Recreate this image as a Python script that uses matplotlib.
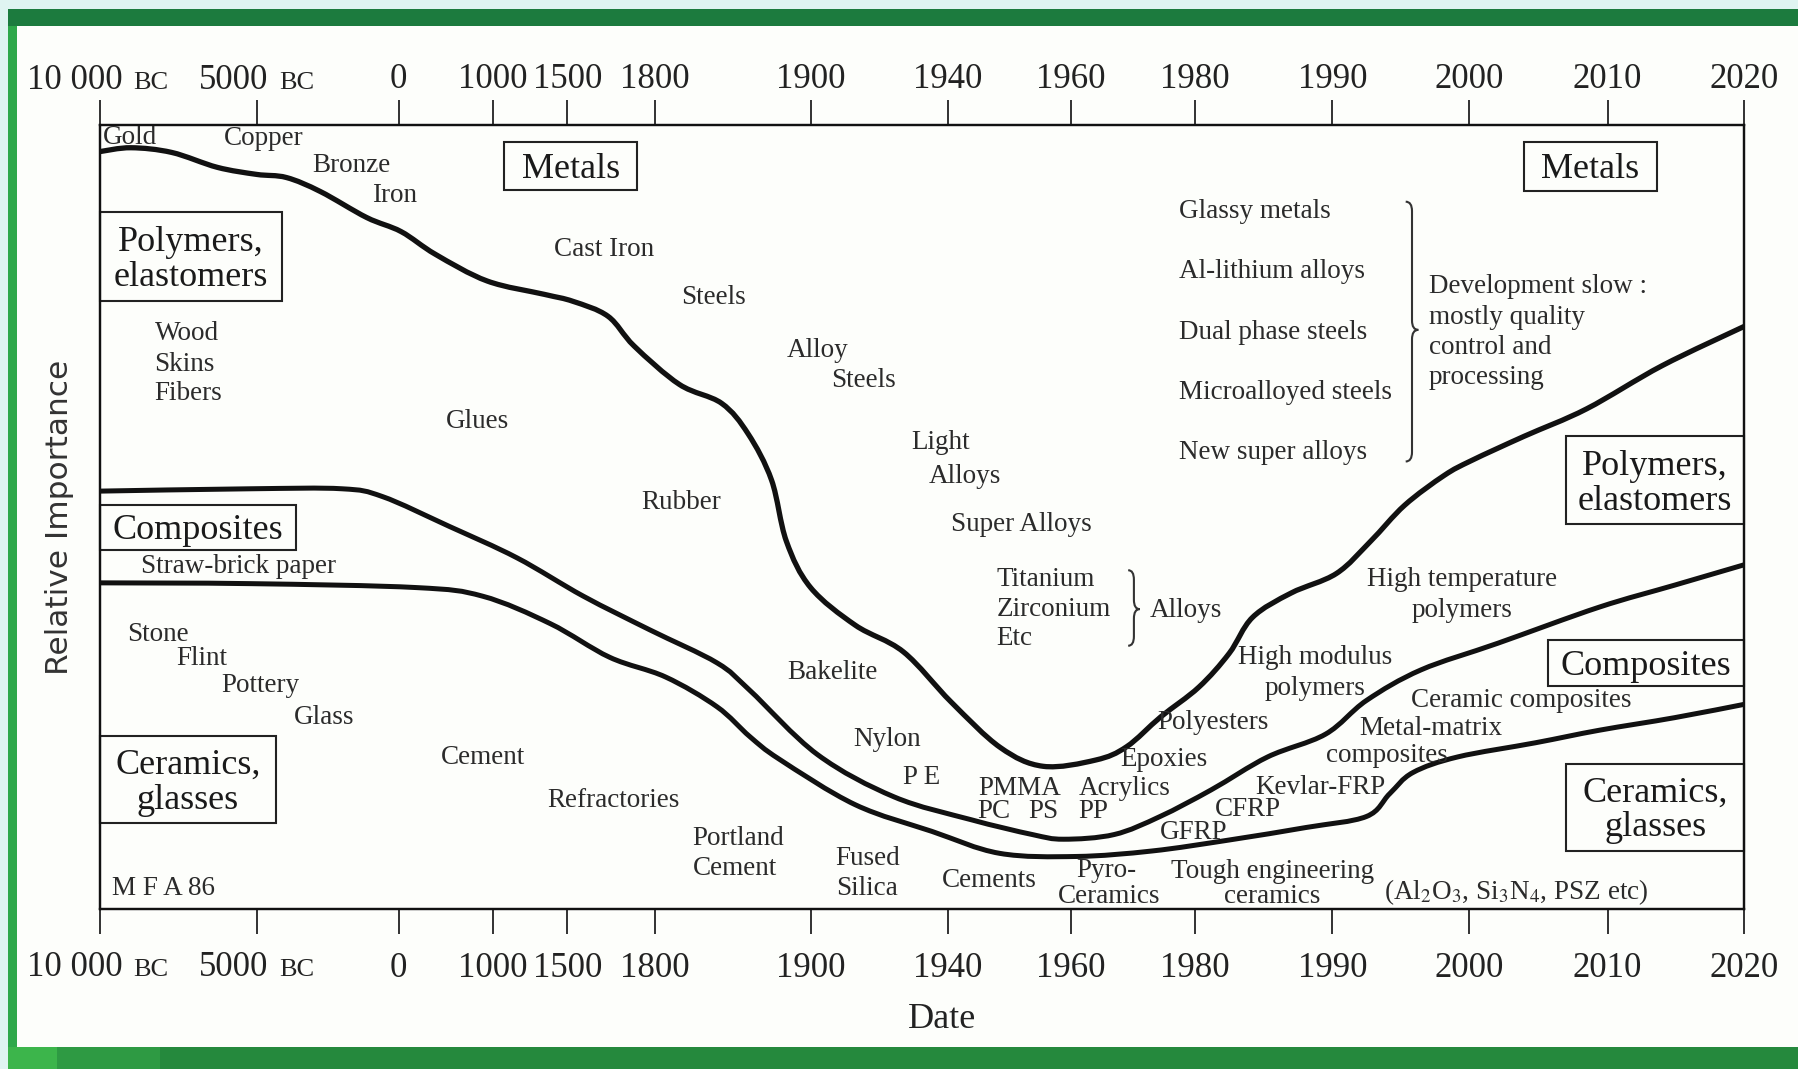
import numpy as np
import matplotlib.pyplot as plt
from matplotlib.patches import Rectangle, PathPatch
from matplotlib.path import Path

plt.rcParams['font.family'] = ['Liberation Serif', 'DejaVu Serif']
plt.rcParams['mathtext.fontset'] = 'stix'

# date axis: uneven spacing as in the original (fraction of axis width)
tick_years = [-10000, -5000, 0, 1000, 1500, 1800, 1900, 1940, 1960, 1980, 1990, 2000, 2010, 2020]
tick_names = ['10 000', '5000', '0', '1000', '1500', '1800', '1900', '1940', '1960',
              '1980', '1990', '2000', '2010', '2020']
tick_frac = [0, 0.0955, 0.182, 0.2392, 0.2845, 0.3375, 0.4324, 0.516, 0.5907,
             0.666, 0.7497, 0.8326, 0.917, 1.0]
bc_years = [-10000, -5000]

# boundary metals / polymers (year, relative importance 0-100)
metals_year = [-10000, -9000, -7700, -6250, -5000, -3950, -2750, -1130, 25, 390, 940,
               1345, 1520, 1640, 1730, 1816, 1843, 1860, 1875, 1884.5, 1900, 1913, 1927,
               1940.5, 1948.5, 1955.5, 1964, 1969, 1974.5, 1980.3, 1982.5, 1984.2, 1987,
               1990.3, 1992.8, 1995.3, 1998.2, 2000.2, 2004, 2008.5, 2014, 2020]
metals_edge = [96.6, 97.1, 96.5, 94.6, 93.7, 93.3, 91.5, 88.2, 86.4, 83.5, 80.1,
               78.4, 77.5, 75.6, 71.8, 66.9, 64.5, 60.6, 54.7, 46.9, 41.0, 36.2, 32.8,
               26.4, 20.6, 18.2, 19.0, 20.7, 24.5, 28.3, 32.6, 37.2, 40.3,
               42.8, 46.9, 51.5, 55.3, 57.2, 60.3, 63.8, 69.3, 74.3]

# boundary polymers / composites
polymer_year = [-10000, -5200, -2000, -570, 537, 1161, 1555, 1784, 1840, 1861, 1902,
                1924.3, 1943.7, 1953.7, 1958.8, 1967, 1974.4, 1981.2, 1985.3, 1989.5,
                1992.5, 1996.5, 2002.1, 2009.4, 2014.9, 2020]
polymer_edge = [53.3, 53.6, 53.6, 52.6, 48.8, 44.8, 39.9, 35.6, 31.4, 27.9, 19.7,
                14.3, 11.4, 9.5, 8.9, 9.5, 11.8, 15.2, 19.4, 22.3,
                26.6, 30.5, 33.9, 38.5, 41.3, 43.9]

# boundary composites / ceramics
composite_year = [-10000, -5200, 183, 891, 1385, 1646, 1807, 1840, 1861, 1880, 1913,
                  1935.3, 1948.4, 1960.9, 1973.1, 1982.5, 1988.1, 1992.5, 1994.2, 1995.9,
                  1999.2, 2004.8, 2009.4, 2014.9, 2020]
composite_edge = [41.6, 41.5, 41.0, 39.9, 36.4, 32.1, 29.6, 25.8, 22.0, 19.1, 13.3,
                  9.9, 7.1, 6.7, 7.4, 8.8, 10.4, 11.8, 14.7, 17.4,
                  19.4, 21.2, 22.8, 24.4, 26.1]


def fwd(x):
    return np.interp(x, tick_years, tick_frac)


def inv(u):
    return np.interp(u, tick_frac, tick_years)


W, H = 1798, 1069
fig = plt.figure(figsize=(W / 100, H / 100), dpi=100, facecolor='#dff4f1')


def fig_rect(x0, y0, x1, y1, color):
    # pixel box of the page frame -> figure fraction
    fig.add_artist(Rectangle((x0 / W, 1 - y1 / H), (x1 - x0) / W, (y1 - y0) / H,
                             transform=fig.transFigure, color=color, zorder=-5, lw=0))


fig_rect(17, 26, W, 1047, '#fdfefb')
fig_rect(8, 9, W, 26, '#1c7b3e')
fig_rect(8, 26, 17, 1047, '#2ea84a')
fig_rect(8, 1047, 57, H, '#3cb54b')
fig_rect(57, 1047, 160, H, '#2e9a43')
fig_rect(160, 1047, W, H, '#25893d')

ax = fig.add_axes([99.5 / W, 1 - 909 / H, (1744 - 99.5) / W, (909 - 125) / H])
ax.set_facecolor('none')
ax.set_xscale('function', functions=(fwd, inv))
ax.set_xlim(-10000, 2020)
ax.set_ylim(0, 100)


def smooth_curve(yrs, vals, lw):
    # hand-drawn look: Catmull-Rom bezier through the points, in screen space
    pts = ax.transData.transform(np.column_stack([yrs, vals]))
    p = np.vstack([pts[0], pts, pts[-1]])
    verts = [pts[0]]
    codes = [Path.MOVETO]
    for i in range(1, len(p) - 2):
        p0, p1, p2, p3 = p[i - 1], p[i], p[i + 1], p[i + 2]
        verts += [p1 + (p2 - p0) / 6, p2 - (p3 - p1) / 6, p2]
        codes += [Path.CURVE4] * 3
    verts = ax.transAxes.inverted().transform(np.array(verts))
    ax.add_patch(PathPatch(Path(verts, codes), transform=ax.transAxes, fill=False,
                           lw=lw, ec='#111111', capstyle='butt', joinstyle='round'))


smooth_curve(metals_year, metals_edge, 3.8)
smooth_curve(polymer_year, polymer_edge, 3.6)
smooth_curve(composite_year, composite_edge, 3.6)

ink = '#222222'
labels = ['' if y in bc_years else n for y, n in zip(tick_years, tick_names)]
ax.set_xticks(tick_years)
ax.set_xticklabels(labels)
ax.tick_params(axis='x', direction='out', length=18, width=1.3, pad=13,
               labelsize=25, colors=ink)
ax.set_yticks([])
for sp in ax.spines.values():
    sp.set_linewidth(1.6)
    sp.set_color('#111111')

top = ax.twiny()
top.set_xscale('function', functions=(fwd, inv))
top.set_xlim(-10000, 2020)
top.set_xticks(tick_years)
top.set_xticklabels(labels)
top.tick_params(axis='x', direction='out', length=18, width=1.3, pad=3,
                labelsize=25, colors=ink)
for sp in top.spines.values():
    sp.set_linewidth(1.6)
    sp.set_color('#111111')

# "BC" in small capitals next to the number
bc_offsets = {-10000: (17, 24), -5000: (8.3, 16.5)}
for yr, name in zip(tick_years, tick_names):
    if yr not in bc_years:
        continue
    dn, db = bc_offsets[yr]
    for yf, base in [(1, 26.2), (0, -48)]:
        ax.annotate(name, xy=(yr, yf), xycoords=('data', 'axes fraction'),
                    xytext=(dn, base), textcoords='offset points', ha='right',
                    va='baseline', fontsize=25, color=ink, annotation_clip=False)
        ax.annotate('BC', xy=(yr, yf), xycoords=('data', 'axes fraction'),
                    xytext=(db, base), textcoords='offset points', ha='left',
                    va='baseline', fontsize=19, color=ink, annotation_clip=False)

ax.set_xlabel('Date', fontsize=26, color=ink)
ax.xaxis.set_label_coords(0.5126, -0.1415)
ax.xaxis.label.set_va('center')
ax.set_ylabel('Relative Importance', fontsize=22.5, color='#333333', family='DejaVu Sans')
ax.yaxis.set_label_coords(-0.0244, 0.50)
ax.yaxis.label.set_va('center')


def pos(px, py):
    # position measured on the reference picture -> axes fraction
    return (px - 87) / 1434, (793 - py) / 685


boxes = [
    ('Metals', 440, 123, 556, 165),
    ('Metals', 1329, 123, 1445, 166),
    ('Polymers,\nelastomers', 87, 184, 246, 262),
    ('Composites', 87, 440, 258, 479),
    ('Ceramics,\nglasses', 87, 642, 241, 718),
    ('Polymers,\nelastomers', 1366, 380, 1521, 457),
    ('Composites', 1350, 558, 1521, 598),
    ('Ceramics,\nglasses', 1366, 666, 1521, 742),
]
for txt, x0, y0, x1, y1 in boxes:
    ax0, ay1 = pos(x0, y0)
    ax1, ay0 = pos(x1, y1)
    ax.add_patch(Rectangle((ax0, ay0), ax1 - ax0, ay1 - ay0, transform=ax.transAxes,
                           fill=False, lw=1.5, ec='#222222', clip_on=False))
    ax.text((ax0 + ax1) / 2, (ay0 + ay1) / 2 - 0.004, txt, transform=ax.transAxes,
            ha='center', va='center', fontsize=26, color='#1a1a1a', linespacing=1.08)

notes = [
    ('Gold', 90, 119, 'left'), ('Copper', 230, 120, 'center'),
    ('Bronze', 307, 143, 'center'), ('Iron', 344, 170, 'center'),
    ('Cast Iron', 527, 217, 'center'), ('Steels', 622, 259, 'center'),
    ('Alloy', 713, 305, 'center'), ('Steels', 753, 331, 'center'),
    ('Light', 820, 385, 'center'), ('Alloys', 842, 415, 'center'),
    ('Super Alloys', 891, 457, 'center'),
    ('Titanium', 869, 505, 'left'), ('Zirconium', 869, 531, 'left'),
    ('Etc', 869, 557, 'left'), ('Alloys', 1003, 532, 'left'),
    ('Glassy metals', 1028, 184, 'left'), ('Al-lithium alloys', 1028, 236, 'left'),
    ('Dual phase steels', 1028, 289, 'left'),
    ('Microalloyed steels', 1028, 342, 'left'),
    ('New super alloys', 1028, 394, 'left'),
    ('Development slow :', 1246, 249, 'left'), ('mostly quality', 1246, 276, 'left'),
    ('control and', 1246, 302, 'left'), ('processing', 1246, 329, 'left'),
    ('Wood', 135, 290, 'left'), ('Skins', 135, 317, 'left'), ('Fibers', 135, 343, 'left'),
    ('Glues', 417, 367, 'center'), ('Rubber', 594, 438, 'center'),
    ('Bakelite', 726, 586, 'center'), ('Nylon', 774, 645, 'center'),
    ('P E', 804, 678, 'center'), ('PMMA', 889, 688, 'center'),
    ('Acrylics', 981, 688, 'center'), ('PC', 867, 708, 'center'),
    ('PS', 910, 708, 'center'), ('PP', 954, 708, 'center'),
    ('Epoxies', 1015, 662, 'center'), ('Polyesters', 1058, 630, 'center'),
    ('High modulus', 1147, 573, 'center'), ('polymers', 1147, 600, 'center'),
    ('High temperature', 1275, 505, 'center'), ('polymers', 1275, 532, 'center'),
    ('Straw-brick paper', 208, 494, 'center'), ('GFRP', 1041, 726, 'center'),
    ('CFRP', 1088, 706, 'center'), ('Kevlar-FRP', 1152, 687, 'center'),
    ('Ceramic composites', 1327, 611, 'center'), ('Metal-matrix', 1248, 635, 'center'),
    ('composites', 1210, 659, 'center'),
    ('Stone', 138, 553, 'center'), ('Flint', 176, 574, 'center'),
    ('Pottery', 227, 598, 'center'), ('Glass', 283, 626, 'center'),
    ('Cement', 421, 661, 'center'), ('Refractories', 535, 698, 'center'),
    ('Portland', 604, 731, 'left'), ('Cement', 604, 758, 'left'),
    ('Fused', 729, 749, 'left'), ('Silica', 729, 775, 'left'),
    ('Cements', 863, 768, 'center'), ('Pyro-', 965, 759, 'center'),
    ('Ceramics', 967, 782, 'center'), ('Tough engineering', 1110, 760, 'center'),
    ('ceramics', 1110, 782, 'center'),
    ('(Al$_2$O$_3$, Si$_3$N$_4$, PSZ etc)', 1322, 778, 'center'),
    ('M F A 86', 143, 775, 'center'),
]
for txt, px, py, ha in notes:
    ax.text(*pos(px, py), txt, transform=ax.transAxes, ha=ha, va='center',
            fontsize=19.5, color='#2b2b2b')


def brace(x0, x1, y_top, y_tip, y_bot):
    # right-pointing curly brace, measured in reference pixels
    (a0, t), (a1, m) = pos(x0, y_top), pos(x1, y_tip)
    b = pos(x0, y_bot)[1]
    xm = (a0 + a1) / 2
    r = 0.012
    verts = [(a0, t), (xm, t), (xm, t - r), (xm, m + r), (xm, m), (a1, m),
             (xm, m), (xm, m - r), (xm, b + r), (xm, b), (a0, b)]
    codes = [Path.MOVETO, Path.CURVE3, Path.CURVE3, Path.LINETO, Path.CURVE3, Path.CURVE3,
             Path.CURVE3, Path.CURVE3, Path.LINETO, Path.CURVE3, Path.CURVE3]
    ax.add_patch(PathPatch(Path(verts, codes), transform=ax.transAxes, fill=False,
                           lw=1.5, ec='#333333', clip_on=False))


brace(984, 994, 497, 531, 563)
brace(1226, 1237, 175, 287, 402)

fig.savefig('out.png', dpi=100, facecolor=fig.get_facecolor())
